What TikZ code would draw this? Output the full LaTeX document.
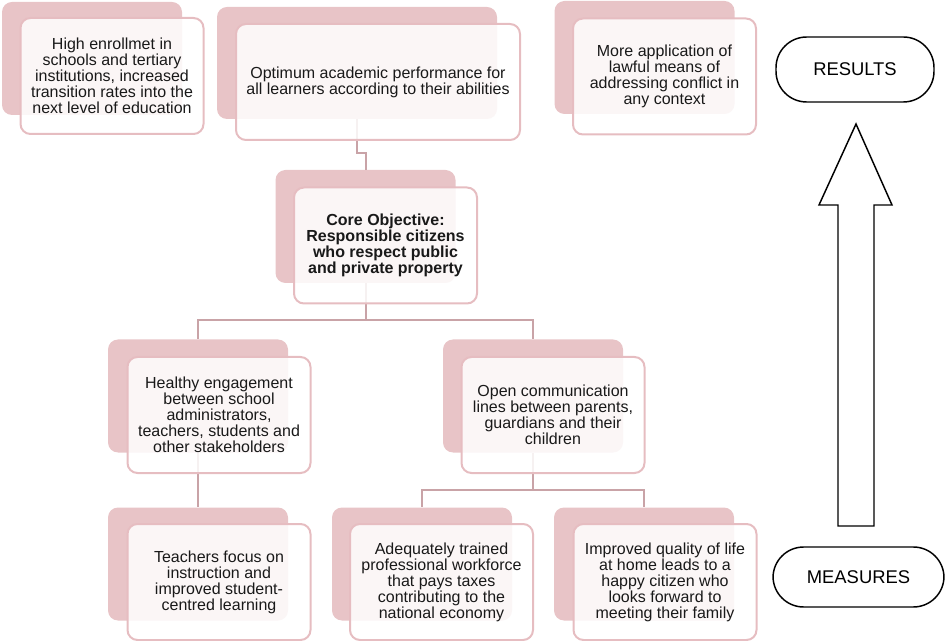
\documentclass[tikz,border=0pt]{standalone}
\usepackage{fontspec}
\setmainfont{Liberation Sans}
\usepackage{tikz}

\definecolor{backpink}{HTML}{E8C4C7}
\definecolor{edgepink}{HTML}{E6BDC1}
\definecolor{linkpink}{HTML}{C9A3A7}

\begin{document}
\begin{tikzpicture}[x=0.75pt,y=-0.75pt,
  back/.style={fill=backpink,rounded corners=7.5pt,inner sep=0pt,minimum width=135pt,minimum height=84.75pt},
  front/.style={draw=edgepink,line width=1.5pt,fill=white,fill opacity=0.85,text opacity=1,rounded corners=7.5pt,inner sep=0pt,minimum width=137.25pt,minimum height=87pt,align=center,text=black!90,font=\fontsize{12}{12}\selectfont},
  link/.style={draw=linkpink,line width=1.5pt},
  pill/.style={draw,line width=1.1pt,rounded corners=23pt,inner sep=0pt,font=\fontsize{13.8}{16}\selectfont}]
  \useasboundingbox (0,0) rectangle (946,641);

  % back plates
  \node[back] (B-1) at (92,58.5) {};
  \node[back,minimum width=210pt,minimum height=84pt] (B-2) at (357,63) {};
  \node[back] (B-3) at (644.5,57.5) {};
  \node[back] (B-C) at (365.5,226.5) {};
  \node[back] (B-H) at (198,396) {};
  \node[back] (B-O) at (533,396) {};
  \node[back] (B-T) at (198,564) {};
  \node[back] (B-A) at (422,564) {};
  \node[back] (B-I) at (644,564) {};

  % links
  \draw[link] (B-2.south) -- ++(0,34) -| (B-C.north);
  \draw[link] (B-C.south) -- ++(0,37) -| (B-H.north);
  \draw[link] (B-C.south) -- ++(0,37) -| (B-O.north);
  \draw[link] (B-H.south) -- (B-T.north);
  \draw[link] (B-O.south) -- ++(0,37) -| (B-A.north);
  \draw[link] (B-O.south) -- ++(0,37) -| (B-I.north);

  % front boxes
  \node[front] (F-1) at (112,76) {High enrollmet in\\schools and tertiary\\institutions, increased\\transition rates into the\\next level of education};
  \node[front,minimum width=213pt] (F-2) at (378,82) {Optimum academic performance for\\all learners according to their abilities};
  \node[front] (F-3) at (664.5,76.5) {More application of\\lawful means of\\addressing conflict in\\any context};
  \node[front,font=\fontsize{12}{12}\selectfont\bfseries] (F-C) at (385.5,245.5) {Core Objective:\\Responsible citizens\\who respect public\\and private property};
  \node[front] (F-H) at (219,415) {Healthy engagement\\between school\\administrators,\\teachers, students and\\other stakeholders};
  \node[front] (F-O) at (553,415) {Open communication\\lines between parents,\\guardians and their\\children};
  \node[front] (F-T) at (219,582) {Teachers focus on\\instruction and\\improved student-\\centred learning};
  \node[front] (F-A) at (441.5,582) {Adequately trained\\professional workforce\\that pays taxes\\contributing to the\\national economy};
  \node[front] (F-I) at (665,582) {Improved quality of life\\at home leads to a\\happy citizen who\\looks forward to\\meeting their family};

  % results and measures
  \node[pill,minimum width=118.5pt,minimum height=48.75pt] (R) at (855,69.5) {RESULTS};
  \node[pill,minimum width=128.25pt,minimum height=45pt] (M) at (858.5,577) {MEASURES};
  \draw[line width=1.1pt] (838,526) -- (838,205) -- (819,205) -- (856,124) -- (892,205) -- (874,205) -- (874,526) -- cycle;
\end{tikzpicture}
\end{document}
